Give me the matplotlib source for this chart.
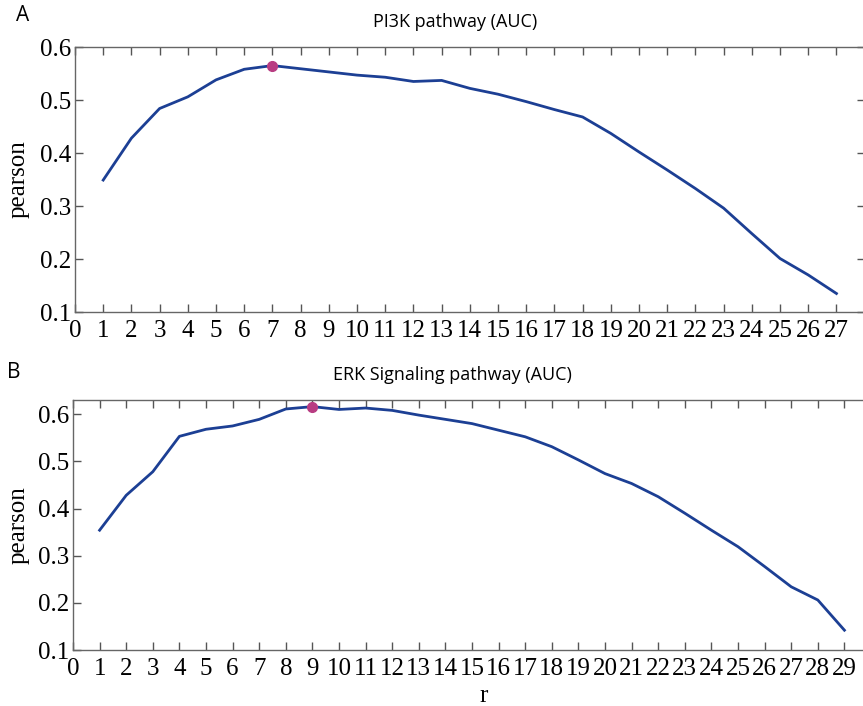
import matplotlib
matplotlib.use("Agg")
import matplotlib.pyplot as plt

r_a = list(range(1, 28))
pearson_a = [0.349, 0.428, 0.484, 0.506, 0.538, 0.558, 0.565, 0.559, 0.553, 0.547,
             0.543, 0.535, 0.537, 0.522, 0.511, 0.497, 0.482, 0.468, 0.437, 0.402,
             0.368, 0.333, 0.296, 0.248, 0.201, 0.170, 0.135]
best_a = 7

r_b = list(range(1, 30))
pearson_b = [0.354, 0.428, 0.478, 0.553, 0.568, 0.575, 0.589, 0.611, 0.616, 0.610,
             0.613, 0.608, 0.598, 0.589, 0.580, 0.566, 0.552, 0.531, 0.503, 0.474,
             0.453, 0.425, 0.390, 0.354, 0.319, 0.277, 0.234, 0.206, 0.142]
best_b = 9

title_a = "PI3K pathway (AUC)"
title_b = "ERK Signaling pathway (AUC)"
yticks = [0.1, 0.2, 0.3, 0.4, 0.5, 0.6]

LINE = "#1c3f94"
MARK = "#b83c82"
SERIF = ["Liberation Serif", "DejaVu Serif"]
SANS = ["Open Sans", "DejaVu Sans"]

fig = plt.figure(figsize=(8.63, 7.06), dpi=100)

def panel(pos, r, vals, best, xmax, ylim, title, letter, letter_xy, show_xlabel, ylab_x):
    ax = fig.add_axes(pos)
    ax.plot(r, vals, color=LINE, lw=2.0, zorder=2)
    ax.plot([best], [vals[r.index(best)]], 'o', color=MARK, ms=7, zorder=3)
    ax.set_xlim(0, xmax)
    ax.set_ylim(*ylim)
    ax.set_xticks(list(range(0, max(r) + 1)))
    ax.set_xticklabels([str(i) for i in range(0, max(r) + 1)], family=SERIF, fontsize=18)
    ax.set_yticks(yticks)
    ax.set_yticklabels([f"{v:.1f}" for v in yticks], family=SERIF, fontsize=18)
    ax.tick_params(direction='in', top=True, right=True, length=6, width=1.0,
                   color="#555555", pad=3)
    ax.tick_params(axis='x', pad=6)
    for s in ax.spines.values():
        s.set_color("#666666")
        s.set_linewidth(1.0)
    ax.set_ylabel("pearson", family=SERIF, fontsize=18)
    ax.yaxis.set_label_coords(ylab_x, 0.5)
    fig.text(pos[0] + 0.44, pos[1] + pos[3] + 0.036, title, family=SANS, fontsize=13,
             ha='center', va='center')
    fig.text(letter_xy[0], letter_xy[1], letter, family=SANS, fontsize=15,
             ha='left', va='center')
    if show_xlabel:
        ax.set_xlabel("r", family=SERIF, fontsize=18)
        ax.xaxis.set_label_coords(0.515, -0.14)
    return ax

ax1 = panel([0.0869, 0.558, 0.915, 0.3754], r_a, pearson_a, best_a, 28, (0.1, 0.6),
            title_a, "A", (0.018, 0.978), False, -0.058)
ax2 = panel([0.0846, 0.0793, 0.9247, 0.3541], r_b, pearson_b, best_b, 30, (0.1, 0.63),
            title_b, "B", (0.008, 0.472), True, -0.055)

fig.savefig("out.png", dpi=100)
